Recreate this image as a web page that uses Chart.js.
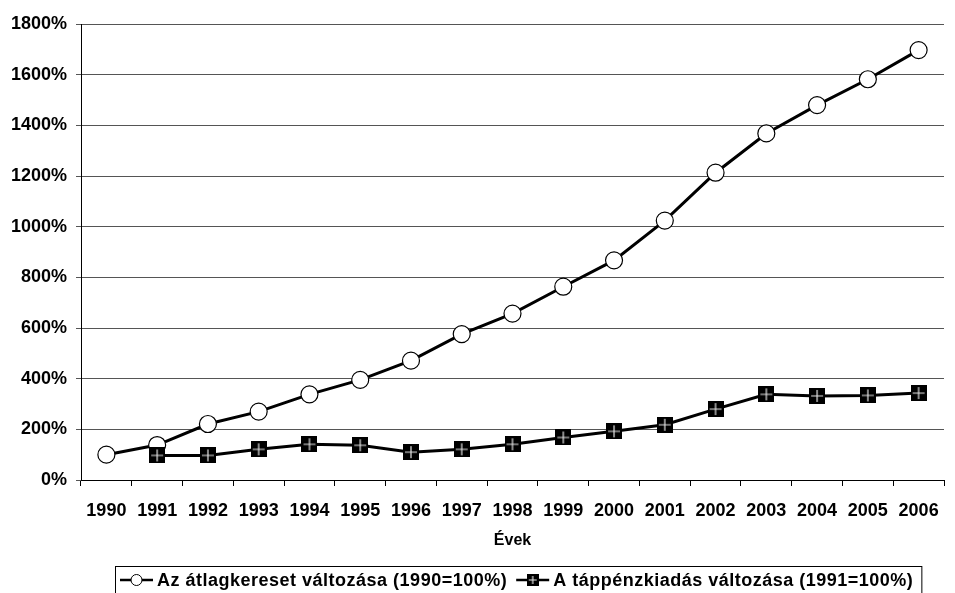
<!DOCTYPE html>
<html>
<head>
<meta charset="utf-8">
<script src="https://cdn.jsdelivr.net/npm/chart.js@4/dist/chart.umd.min.js"></script>
<style>
  html, body { margin: 0; padding: 0; background: #fff; }
</style>
</head>
<body>
<canvas id="chart" width="955" height="593"></canvas>
<script>
const years = ['1990', '1991', '1992', '1993', '1994', '1995', '1996', '1997', '1998',
  '1999', '2000', '2001', '2002', '2003', '2004', '2005', '2006'];
const wageLabel = 'Az átlagkereset változása (1990=100%)';
const sickLabel = 'A táppénzkiadás változása (1991=100%)';
const wageValues = [100, 138, 221, 270, 338, 395, 471, 576, 657, 763, 867, 1024, 1213, 1368, 1480, 1582, 1697];
const sickValues = [null, 97, 97, 121, 141, 137, 110, 121, 141, 168, 192, 218, 280, 338, 332, 334, 343];
const yTicks = [0, 200, 400, 600, 800, 1000, 1200, 1400, 1600, 1800];
const xTitle = 'Évek';

const FONT = '"Liberation Sans", Arial, Helvetica, sans-serif';

// black square with a white cross, used as point marker
function crossSquare(size) {
  const c = document.createElement('canvas');
  c.width = size;
  c.height = size;
  const g = c.getContext('2d');
  g.fillStyle = '#000';
  g.fillRect(0, 0, size, size);
  g.strokeStyle = '#e8e8e8';
  g.lineWidth = 1.2;
  const m = size / 2;
  g.beginPath();
  g.moveTo(m, 2); g.lineTo(m, size - 2);
  g.moveTo(2, m); g.lineTo(size - 2, m);
  g.stroke();
  return c;
}

const squareMark = crossSquare(16);
const squareSmall = crossSquare(12);

// legend in a framed box below the axis title
const boxLegend = {
  id: 'boxLegend',
  afterDraw(chart) {
    const ctx = chart.ctx;
    const y = 580;
    let x = 120;
    ctx.save();
    ctx.font = 'bold 18px ' + FONT;
    ctx.letterSpacing = '0.5px';
    ctx.textBaseline = 'middle';
    chart.data.datasets.forEach((ds) => {
      ctx.strokeStyle = '#000';
      ctx.lineWidth = 2.5;
      ctx.beginPath();
      ctx.moveTo(x, y);
      ctx.lineTo(x + 33, y);
      ctx.stroke();
      if (ds.pointStyle === 'circle') {
        ctx.beginPath();
        ctx.arc(x + 16.5, y, 5.5, 0, Math.PI * 2);
        ctx.fillStyle = '#fff';
        ctx.fill();
        ctx.lineWidth = 1;
        ctx.stroke();
      } else {
        ctx.drawImage(squareSmall, x + 16.5 - 6, y - 6);
      }
      ctx.fillStyle = '#000';
      ctx.fillText(ds.label, x + 37, y + 1);
      x += 37 + ctx.measureText(ds.label).width + 9;
    });
    ctx.strokeStyle = '#000';
    ctx.lineWidth = 1;
    ctx.strokeRect(115.5, 566.5, x - 9 + 8 - 115, 40);
    ctx.restore();
  }
};

new Chart(document.getElementById('chart'), {
  type: 'line',
  data: {
    labels: years,
    datasets: [
      {
        label: wageLabel,
        data: wageValues,
        borderColor: '#000',
        borderWidth: 3,
        pointStyle: 'circle',
        pointRadius: 8.5,
        pointBackgroundColor: '#fff',
        pointBorderColor: '#000',
        pointBorderWidth: 1.2,
        tension: 0,
        order: 1
      },
      {
        label: sickLabel,
        data: sickValues,
        borderColor: '#000',
        borderWidth: 3,
        pointStyle: squareMark,
        pointRadius: 8,
        tension: 0,
        order: 0
      }
    ]
  },
  options: {
    responsive: false,
    animation: false,
    layout: { padding: { top: 24, left: 0, right: 0, bottom: 0 } },
    plugins: {
      legend: { display: false },
      tooltip: { enabled: false }
    },
    scales: {
      x: {
        offset: true,
        grid: {
          offset: true,
          drawOnChartArea: false,
          drawTicks: true,
          tickLength: 6,
          color: '#000'
        },
        border: { color: '#000', width: 1 },
        ticks: {
          autoSkip: false,
          maxRotation: 0,
          padding: 14,
          color: '#000',
          font: { family: FONT, size: 18, weight: 'bold' }
        },
        title: {
          display: true,
          text: xTitle,
          color: '#000',
          padding: { top: 0, bottom: 43 },
          font: { family: FONT, size: 16, weight: 'bold' }
        },
        afterFit(scale) { scale.height = 113; }
      },
      y: {
        min: 0,
        max: 1800,
        afterBuildTicks(scale) { scale.ticks = yTicks.map(v => ({ value: v })); },
        grid: {
          color: '#555',
          lineWidth: 1,
          tickLength: 5
        },
        border: { color: '#000', width: 1 },
        ticks: {
          padding: 9,
          color: '#000',
          font: { family: FONT, size: 18, weight: 'bold' },
          callback: (v) => v + '%'
        },
        afterFit(scale) { scale.width = 81; }
      }
    }
  },
  plugins: [boxLegend]
});
</script>
</body>
</html>
